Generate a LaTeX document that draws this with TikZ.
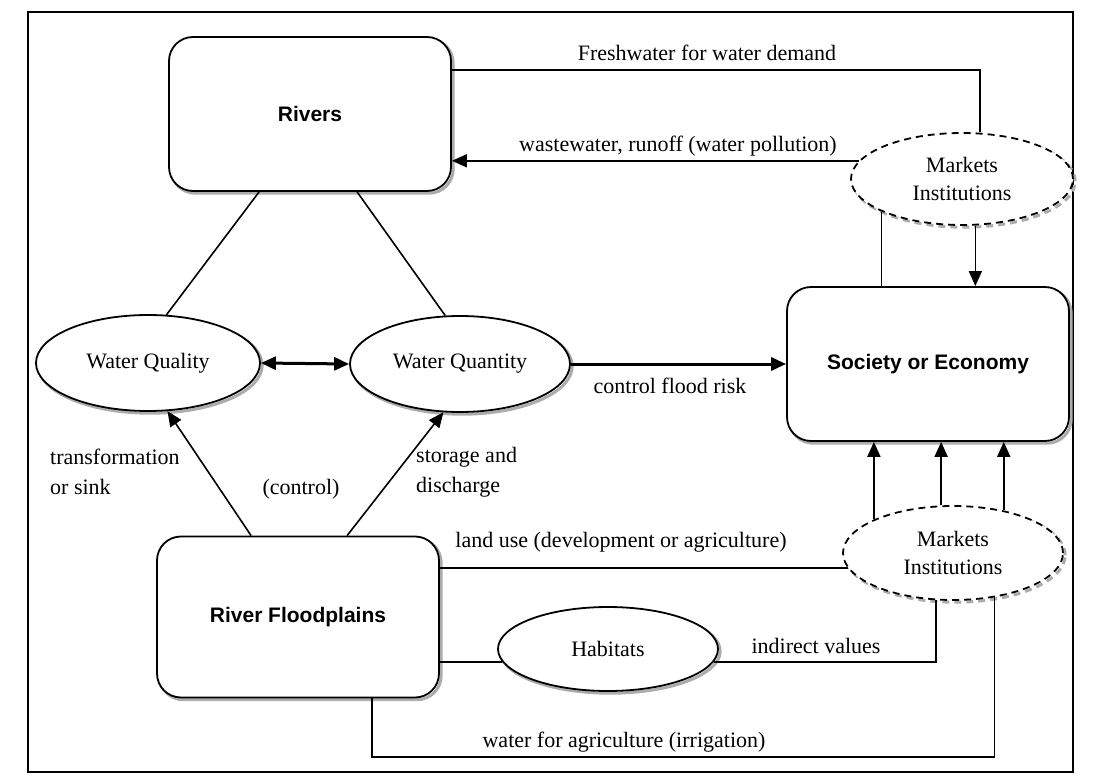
\documentclass[tikz,border=0pt]{standalone}
\usepackage{fontspec}
\setmainfont{Liberation Serif}
\setsansfont{Liberation Sans}
\usetikzlibrary{arrows.meta,shapes.geometric}
\begin{document}
\begin{tikzpicture}[x=1pt,y=-1pt,
  txt/.style={font=\fontsize{22}{25}\selectfont, inner sep=0pt},
  shad/.style={preaction={draw=gray!65,line width=3pt,
    transform canvas={xshift=2.2pt,yshift=-2.2pt}}},
  bigbox/.style={draw,line width=1.8pt,rounded corners=24pt,fill=white,shad,
    font=\sffamily\bfseries\fontsize{21}{24}\selectfont,inner sep=0pt},
  oval/.style={ellipse,draw,line width=1.8pt,fill=white,shad,inner sep=0pt,
    font=\fontsize{22}{25}\selectfont},
  mktoval/.style={oval,dash pattern=on 7pt off 5pt,align=center,
    font=\fontsize{22}{28}\selectfont},
  link/.style={line width=1.6pt},
  tip/.style={-{Triangle[length=15pt,width=13pt]}},
  heavy/.style={line width=3pt}
]
\useasboundingbox (0,0) rectangle (1096,778);
\draw[line width=1.5pt] (28,12) rectangle (1073,772);

% main boxes
\node[bigbox,minimum width=282pt,minimum height=154pt] (rivers) at (310,114) {Rivers};
\node[bigbox,minimum width=282pt,minimum height=154pt] (soc) at (928,364) {Society or Economy};
\node[bigbox,minimum width=282pt,minimum height=161pt] (flood) at (298,617) {River Floodplains};

% ellipses
\node[oval,minimum width=224pt,minimum height=96pt] (wql) at (148,363) {Water Quality};
\node[oval,minimum width=220pt,minimum height=96pt] (wqn) at (460,364) {Water Quantity};
\node[oval,minimum width=220pt,minimum height=84pt] (hab) at (608,649) {Habitats};
\node[mktoval,minimum width=222pt,minimum height=92pt] (mkt1) at (962,179) {Markets\\Institutions};
\node[mktoval,minimum width=220pt,minimum height=94pt] (mkt2) at (953,553) {Markets\\Institutions};

% rivers to water quality / quantity
\draw[link] ([xshift=91pt]rivers.south west) -- (wql.69);
\draw[link] ([xshift=189pt]rivers.south west) -- (wqn.107);

% floodplains to water quality / quantity
\draw[link,tip] ([xshift=95pt]flood.north west) -- (wql.-68);
\draw[link,tip] ([xshift=191pt]flood.north west) -- (wqn.-109);

% quality <-> quantity, quantity -> society
\draw[heavy,{Triangle[length=15pt,width=13pt]}-{Triangle[length=15pt,width=13pt]}] (wql.east) -- (wqn.west);
\draw[heavy,tip] (wqn.east) -- (wqn.east -| soc.west);

% freshwater and wastewater links
\draw[link] ([yshift=44pt]rivers.east) -| ([xshift=18pt]mkt1.north);
\draw[link,tip] (mkt1.170) -- (mkt1.170 -| rivers.east);

% upper markets to society
\draw[link] (mkt1.-158) -- (mkt1.-158 |- soc.north);
\draw[link,tip] (mkt1.-74) -- (mkt1.-74 |- soc.north);

% lower markets to society
\draw[link,line width=2pt,tip] (mkt2.157) -- (mkt2.157 |- soc.south);
\draw[link,line width=2pt,tip] (mkt2.104) -- (mkt2.104 |- soc.south);
\draw[link,line width=2pt,tip] (mkt2.40) -- (mkt2.40 |- soc.south);

% land use
\draw[link] (mkt2.-172) -- (mkt2.-172 -| flood.east);

% habitats
\draw[link] (hab.-173) -- (hab.-173 -| flood.east);
\draw[link] (hab.-7) -| (mkt2.-110);

% irrigation
\coordinate (irr) at (600,757);
\draw[link] ([xshift=216pt]flood.south west) |- (irr) -| (mkt2.-47);

% labels
\node[txt] (lfresh) at (707,53) {Freshwater for water demand};
\node[txt] (lwaste) at (678,146) {wastewater, runoff (water pollution)};
\node[txt] (lflood) at (670,386) {control flood risk};
\node[txt,align=left,anchor=west] (ltrans) at (50,472) {transformation\\[5pt]or sink};
\node[txt] (lctrl) at (301,489) {(control)};
\node[txt,align=left,anchor=west] (lstor) at (416,472) {storage and\\[5pt]discharge};
\node[txt] (lland) at (621,542) {land use (development or agriculture)};
\node[txt] (lind) at (816,646) {indirect values};
\node[txt] (lirr) at (624,742) {water for agriculture (irrigation)};
\end{tikzpicture}
\end{document}
